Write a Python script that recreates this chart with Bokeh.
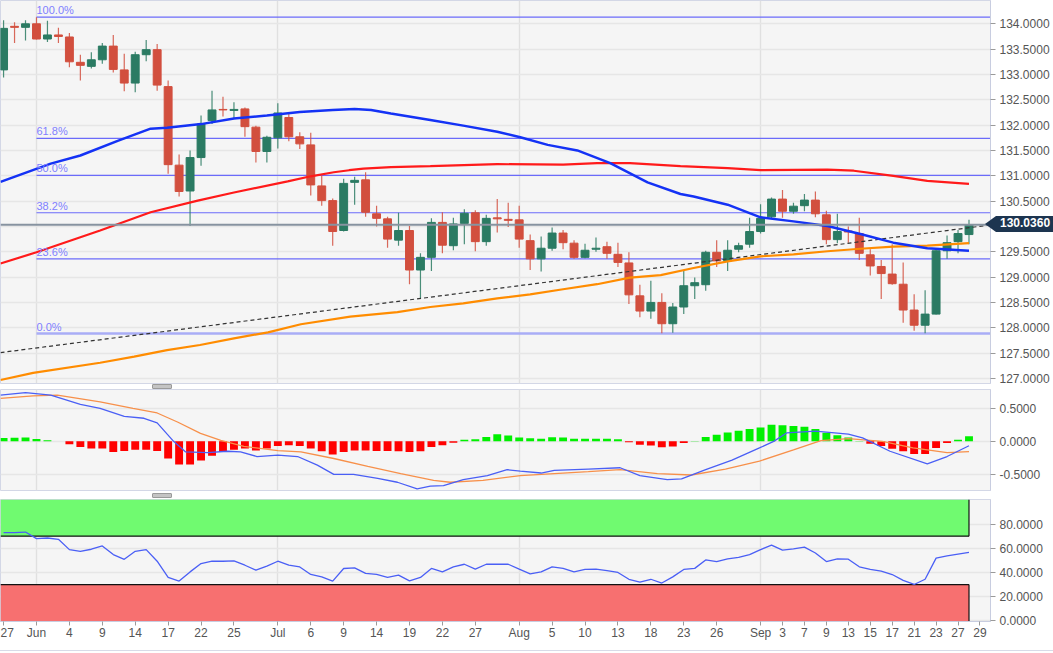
from bokeh.plotting import figure
from bokeh.layouts import column
from bokeh.models import Range1d, FixedTicker, Span, Label, ColumnDataSource, NumeralTickFormatter
from bokeh.embed import file_html
from bokeh.resources import INLINE

FONT = "Liberation Sans"

# ---------------- data ----------------
tick_idx = [0, 3, 6, 9, 12, 15, 18, 21, 25, 28, 31, 34, 37, 40, 43, 47, 50, 53, 56, 59, 62, 65,
            69, 71, 73, 75, 77, 79, 81, 83, 85, 87, 89]
tick_lbl = ["27", "Jun", "4", "9", "14", "17", "22", "25", "Jul", "6", "9", "14", "19", "22", "27",
            "Aug", "5", "10", "13", "18", "23", "26", "Sep", "3", "7", "9", "13", "15", "17", "21",
            "23", "27", "29"]
month_idx = [3, 25, 47, 69]

opens = [133.09, 133.95, 133.93, 134.00, 133.70, 133.78, 133.74, 133.24, 133.16, 133.29,
         133.56, 133.09, 132.83, 133.39, 133.49, 132.76, 131.21, 130.70, 131.36, 132.09,
         132.31, 132.29, 132.32, 131.96, 131.48, 131.75, 132.15, 131.77, 131.61, 130.80,
         130.51, 129.92, 130.87, 130.92, 130.25, 130.15, 129.73, 129.92, 129.14, 129.39,
         130.08, 129.62, 130.06, 130.27, 129.70, 130.17, 130.14, 130.13, 129.72, 129.36,
         129.57, 129.87, 129.67, 129.39, 129.55, 129.60, 129.45, 129.28, 128.63, 128.33,
         128.50, 128.08, 128.41, 128.83, 128.85, 129.49, 129.32, 129.55, 129.65, 129.90,
         130.19, 130.54, 130.30, 130.41, 130.52, 130.23, 129.74, 129.91, 129.86, 129.44,
         129.21, 129.06, 128.86, 128.35, 128.05, 128.27, 129.52, 129.70, 129.84]
highs = [134.07, 134.03, 134.07, 134.13, 134.06, 133.92, 133.82, 133.39, 133.44, 133.62,
         133.78, 133.41, 133.45, 133.68, 133.60, 132.88, 131.42, 131.50, 132.19, 132.68,
         132.56, 132.45, 132.35, 131.99, 131.79, 132.43, 132.22, 131.86, 131.85, 131.00,
         130.55, 130.94, 130.98, 131.07, 130.41, 130.19, 130.27, 130.01, 129.47, 130.16,
         130.28, 130.17, 130.34, 130.32, 130.23, 130.54, 130.47, 130.41, 129.84, 129.80,
         129.98, 129.93, 129.73, 129.66, 129.78, 129.70, 129.68, 129.49, 128.85, 128.93,
         128.68, 128.49, 129.13, 128.99, 129.52, 129.73, 129.73, 129.68, 130.17, 130.44,
         130.57, 130.72, 130.47, 130.64, 130.69, 130.31, 130.25, 130.00, 130.17, 129.55,
         129.34, 129.65, 129.29, 128.66, 128.74, 129.53, 129.82, 129.93, 130.13]
lows = [132.94, 133.62, 133.67, 133.69, 133.64, 133.62, 133.14, 132.88, 133.12, 133.21,
        133.04, 132.67, 132.65, 133.26, 132.68, 131.04, 130.59, 130.01, 131.20, 132.02,
        132.17, 132.12, 131.77, 131.26, 131.26, 131.54, 131.68, 131.53, 130.61, 130.41,
        129.62, 129.90, 130.43, 130.19, 130.00, 129.58, 129.62, 128.86, 128.57, 129.12,
        129.47, 129.53, 129.65, 129.51, 129.62, 129.88, 129.99, 129.58, 129.14, 129.11,
        129.52, 129.55, 129.36, 129.37, 129.50, 129.36, 129.20, 128.47, 128.21, 128.18,
        127.89, 127.90, 128.27, 128.57, 128.73, 129.20, 129.12, 129.49, 129.58, 129.86,
        130.15, 130.17, 130.25, 130.30, 130.18, 129.65, 129.67, 129.68, 129.34, 129.03,
        128.57, 128.85, 128.10, 127.94, 127.89, 128.26, 129.36, 129.47, 129.65]
closes = [133.91, 133.93, 134.00, 133.70, 133.78, 133.75, 133.25, 133.18, 133.29, 133.56,
          133.10, 132.83, 133.39, 133.49, 132.79, 131.22, 130.69, 131.36, 132.02, 132.30,
          132.30, 132.31, 131.97, 131.48, 131.76, 132.24, 131.77, 131.63, 130.82, 130.51,
          129.90, 130.85, 130.91, 130.28, 130.16, 129.75, 129.92, 129.14, 129.39, 130.08,
          129.63, 130.05, 130.26, 129.70, 130.16, 130.15, 130.12, 129.75, 129.36, 129.57,
          129.87, 129.68, 129.39, 129.53, 129.57, 129.47, 129.29, 128.65, 128.33, 128.50,
          128.08, 128.41, 128.83, 128.89, 129.49, 129.32, 129.53, 129.62, 129.90, 130.16,
          130.54, 130.30, 130.40, 130.52, 130.25, 129.74, 129.90, 129.89, 129.47, 129.22,
          129.07, 128.87, 128.35, 128.05, 128.27, 129.52, 129.68, 129.86, 130.036]

ma50_x = [-0.28, 4.3, 7, 10.4, 13.4, 14.9, 18, 21, 24, 27, 30, 32, 33.5, 35.3, 38.9, 41.9, 45,
          47.1, 49.6, 52.3, 55.3, 58.7, 61.7, 62.9, 66, 69, 72, 75.1, 78.1, 81.1, 84.2, 88]
ma50_y = [130.88, 131.24, 131.40, 131.69, 131.93, 131.95, 132.02, 132.13, 132.19, 132.26,
          132.30, 132.32, 132.30, 132.23, 132.10, 131.99, 131.87, 131.76, 131.61, 131.50,
          131.25, 130.87, 130.64, 130.59, 130.43, 130.18, 130.10, 130.01, 129.85, 129.68,
          129.57, 129.52]
ma100_x = [-0.28, 3, 8.8, 13.4, 17.7, 21, 25.9, 28, 30.1, 31.5, 32.8, 35.3, 38.9, 45, 51,
           54.1, 57.1, 61.7, 66, 69, 75.1, 77.5, 81.1, 84.2, 88]
ma100_y = [129.27, 129.49, 129.92, 130.28, 130.51, 130.67, 130.89, 130.99, 131.07, 131.11,
           131.14, 131.17, 131.19, 131.23, 131.22, 131.25, 131.25, 131.19, 131.15, 131.11,
           131.12, 131.10, 131.00, 130.90, 130.84]
ma200_x = [-0.28, 2.7, 8.8, 11.9, 14.9, 17.9, 21, 24.1, 27.1, 31.6, 35.9, 38.9, 41.9, 45, 48,
           51, 54.1, 57.1, 59.9, 62.9, 66, 69, 72, 75.1, 78.1, 81.1, 84.2, 88]
ma200_y = [126.97, 127.11, 127.31, 127.43, 127.56, 127.66, 127.79, 127.91, 128.07, 128.22,
           128.31, 128.41, 128.48, 128.58, 128.66, 128.76, 128.86, 128.99, 129.04, 129.18,
           129.31, 129.41, 129.45, 129.51, 129.56, 129.60, 129.62, 129.67]
trend_x = [-0.28, 89.96]
trend_y = [127.51, 130.03]

fib_lbl = ["0.0%", "23.6%", "38.2%", "50.0%", "61.8%", "100.0%"]
fib_px = [127.885, 129.36, 130.27, 131.01, 131.74, 134.13]
fib_start = 3
last_price = 130.036
last_text = "130.0360"

hist = [0.05, 0.056, 0.06, 0.035, 0.015, 0.003, -0.045, -0.087, -0.11, -0.11,
        -0.16, -0.147, -0.126, -0.126, -0.147, -0.26, -0.35, -0.35, -0.29, -0.22,
        -0.16, -0.126, -0.11, -0.137, -0.11, -0.07, -0.06, -0.07, -0.11, -0.15,
        -0.20, -0.16, -0.137, -0.137, -0.147, -0.147, -0.15, -0.16, -0.15, -0.087,
        -0.06, -0.02, 0.025, 0.03, 0.066, 0.106, 0.09, 0.06, 0.047, 0.04,
        0.062, 0.057, 0.04, 0.04, 0.04, 0.04, 0.03, -0.012, -0.052, -0.062,
        -0.088, -0.078, -0.026, 0.005, 0.067, 0.10, 0.135, 0.16, 0.186, 0.21,
        0.25, 0.243, 0.233, 0.22, 0.186, 0.13, 0.093, 0.057, 0.005, -0.036,
        -0.072, -0.114, -0.15, -0.19, -0.19, -0.10, -0.026, 0.026, 0.078]
macd_x = [-0.28, 2, 4.3, 7, 8.8, 11, 12.8, 14, 15.5, 16.6, 18.6, 20.4, 21.6, 23.1, 25, 26.8,
          28.6, 30.1, 31.9, 34.1, 35.9, 37.7, 38.9, 40.1, 41.9, 44.1, 45.9, 47.1, 49, 50.2,
          53.3, 56.2, 58, 60.5, 61.8, 64, 66.4, 68.9, 70.2, 71.4, 74, 77, 78.3, 80.8, 84.2,
          86, 88]
macd_y = [0.70, 0.74, 0.70, 0.56, 0.50, 0.38, 0.35, 0.28, 0.0, -0.16, -0.17, -0.15, -0.16,
          -0.23, -0.21, -0.23, -0.36, -0.50, -0.50, -0.56, -0.62, -0.72, -0.68, -0.67, -0.58,
          -0.52, -0.43, -0.45, -0.48, -0.44, -0.42, -0.40, -0.52, -0.58, -0.57, -0.43, -0.285,
          -0.10, 0.0, 0.13, 0.156, 0.11, 0.053, -0.15, -0.34, -0.23, -0.067]
sig_x = [-0.28, 2.7, 4.9, 8.8, 11.8, 14, 15.9, 17.95, 19.8, 21.9, 25, 27.1, 30.1, 33.2, 36.2,
         39.2, 40.7, 43.7, 47.1, 50.2, 53.3, 56.2, 59.6, 62.7, 65.8, 68.9, 72, 74.5, 77, 80.1,
         82.9, 86, 88]
sig_y = [0.65, 0.69, 0.70, 0.60, 0.50, 0.43, 0.29, 0.12, 0.015, -0.076, -0.14, -0.16, -0.26,
         -0.38, -0.49, -0.59, -0.62, -0.59, -0.52, -0.49, -0.46, -0.43, -0.49, -0.51, -0.42,
         -0.30, -0.13, 0.01, 0.04, 0.0, -0.10, -0.17, -0.155]

rsi = [72.9, 72.9, 73.4, 68.0, 68.5, 67.4, 58.9, 57.5, 59.2, 61.9,
       54.8, 50.9, 57.5, 58.9, 49.3, 35.9, 32.9, 40.5, 47.4, 49.3,
       49.3, 49.6, 46.0, 41.9, 45.2, 49.3, 46.0, 44.6, 38.4, 36.4,
       32.9, 43.3, 43.8, 39.2, 38.4, 35.9, 37.8, 33.1, 35.9, 43.3,
       40.5, 44.6, 46.8, 42.7, 46.8, 46.8, 46.8, 42.7, 38.9, 40.5,
       44.7, 43.4, 40.5, 42.5, 42.8, 41.6, 40.0, 34.4, 32.1, 34.4,
       31.3, 36.4, 42.5, 43.4, 50.4, 49.0, 51.3, 52.4, 54.7, 58.9,
       62.6, 58.4, 59.5, 60.9, 56.1, 49.0, 51.3, 51.0, 44.7, 42.5,
       41.1, 38.3, 33.5, 30.1, 34.4, 51.9, 53.8, 55.2, 56.6]
rsi_hi = 70
rsi_lo = 30

# ---------------- styling ----------------
X0, X1 = -0.28, 89.96
Y0, Y1 = 126.9, 134.46
FW = 990
MAIN_H = 383
BG = "#f5f5f5"
HGRID = "#e6e6e6"
VGRID = "#e0e0e0"
GREEN = "#2b7b63"
RED = "#d24f3e"
TAG = "#1d3550"

idx = list(range(len(opens)))


def style(p, yticks, fmt):
    p.background_fill_color = BG
    p.border_fill_color = "white"
    p.outline_line_color = "#d3d7e6"
    ax = p.yaxis[0]
    ax.ticker = FixedTicker(ticks=yticks)
    ax.formatter = NumeralTickFormatter(format=fmt)
    ax.axis_line_color = "#c8cde0"
    ax.major_tick_line_color = "#9a9a9a"
    ax.major_tick_out = 5
    ax.major_tick_in = 0
    ax.minor_tick_line_color = None
    ax.major_label_text_font = FONT
    ax.major_label_text_font_size = "12px"
    ax.major_label_text_color = "#555555"
    ax.major_label_standoff = 4
    p.ygrid.ticker = FixedTicker(ticks=yticks)
    p.ygrid.grid_line_color = HGRID
    p.ygrid.grid_line_width = 1.6
    p.xgrid.ticker = FixedTicker(ticks=month_idx)
    p.xgrid.grid_line_color = VGRID
    p.xgrid.grid_line_width = 1.4


xr = Range1d(X0, X1)

# ---------------- main price panel ----------------
main = figure(frame_width=FW, frame_height=MAIN_H, x_range=xr, y_range=Range1d(Y0, Y1),
              output_backend="svg", toolbar_location=None, y_axis_location="right",
              x_axis_location=None, min_border_left=0, min_border_top=0, min_border_bottom=6,
              min_border_right=63)
style(main, [127 + 0.5 * k for k in range(15)], "0.0000")

for lbl, px in zip(fib_lbl, fib_px):
    is_zero = lbl == "0.0%"
    main.segment(x0=[fib_start], y0=[px], x1=[X1], y1=[px],
                 line_color="#a9adf6" if is_zero else "#6b6bfa",
                 line_width=2.5 if is_zero else 1.2)
    main.add_layout(Label(x=fib_start, y=px, text=lbl, text_font=FONT, text_font_size="11px",
                          text_color="#8080ff", text_baseline="bottom", text_align="left",
                          x_offset=0, y_offset=1))

main.add_layout(Span(location=last_price, dimension="width", line_color="#8793a0", line_width=2))

top = [max(o, c) for o, c in zip(opens, closes)]
bot = [min(o, c) for o, c in zip(opens, closes)]
col = [GREEN if c >= o else RED for o, c in zip(opens, closes)]
src = ColumnDataSource(dict(x=idx, top=top, bot=bot, high=highs, low=lows, color=col))
main.segment(x0="x", y0="low", x1="x", y1="high", line_color="color", line_width=1.2,
             line_alpha=0.85, source=src)
main.vbar(x="x", top="top", bottom="bot", width=0.72, fill_color="color", line_color="color",
          line_width=1, source=src)

main.line(trend_x, trend_y, line_color="#333333", line_width=1.2, line_dash="4 3")
main.line(ma200_x, ma200_y, line_color="#ff8c00", line_width=2.2)
main.line(ma100_x, ma100_y, line_color="#ff1a1a", line_width=2.2)
main.line(ma50_x, ma50_y, line_color="#1432f5", line_width=2.5)

# ---------------- MACD panel ----------------
macd = figure(frame_width=FW, frame_height=101, x_range=xr, y_range=Range1d(-0.745, 0.786),
              output_backend="svg", toolbar_location=None, y_axis_location="right",
              x_axis_location=None, min_border_left=0, min_border_top=0, min_border_bottom=9,
              min_border_right=63)
style(macd, [-0.5, 0.0, 0.5], "0.0000")
hcol = ["#00f000" if h >= 0 else "#ff0000" for h in hist]
hsrc = ColumnDataSource(dict(x=idx, top=hist, color=hcol))
macd.vbar(x="x", top="top", bottom=0, width=0.72, fill_color="color", line_color=None,
          source=hsrc)
macd.line(sig_x, sig_y, line_color="#f7904a", line_width=1.3)
macd.line(macd_x, macd_y, line_color="#4a5ff5", line_width=1.3)

# ---------------- RSI panel ----------------
rsip = figure(frame_width=FW, frame_height=122, x_range=xr, y_range=Range1d(-0.5, 100.3),
              output_backend="svg", toolbar_location=None, y_axis_location="right",
              x_axis_location="below", min_border_left=0, min_border_top=0, min_border_bottom=4,
              min_border_right=63)
style(rsip, [0, 20, 40, 60, 80], "0.0000")
last_i = idx[-1]
rsip.quad(left=[X0], right=[last_i], bottom=[rsi_hi], top=[100.3], fill_color="#70fa70",
          line_color=None)
rsip.quad(left=[X0], right=[last_i], bottom=[-0.5], top=[rsi_lo], fill_color="#f77070",
          line_color=None)
rsip.segment(x0=[X0, X0, last_i, last_i], y0=[rsi_hi, rsi_lo, rsi_hi, -0.5],
             x1=[last_i, last_i, last_i, last_i], y1=[rsi_hi, rsi_lo, 100.3, rsi_lo],
             line_color="#111111", line_width=1.2)
rsip.line(idx, rsi, line_color="#4a5ff5", line_width=1.3)

xa = rsip.xaxis[0]
xa.ticker = FixedTicker(ticks=tick_idx)
xa.major_label_overrides = {t: s for t, s in zip(tick_idx, tick_lbl)}
xa.axis_line_color = "#c8cde0"
xa.major_tick_line_color = "#9a9a9a"
xa.major_tick_out = 4
xa.major_tick_in = 0
xa.minor_tick_line_color = None
xa.major_label_text_font = FONT
xa.major_label_text_font_size = "12px"
xa.major_label_text_color = "#555555"
xa.major_label_standoff = 0

layout = column(main, macd, rsip, spacing=0)
html = file_html(layout, INLINE)

# price tag sitting on the right axis (outside the plot frame) + panel drag handles
tag_y = (Y1 - last_price) / (Y1 - Y0) * MAIN_H
extra = (
    '<div style="position:absolute;left:%dpx;top:%dpx;width:0;height:0;'
    'border-top:8px solid transparent;border-bottom:8px solid transparent;'
    'border-right:11px solid %s;"></div>' % (FW - 5, round(tag_y - 8), TAG)
    + '<div style="position:absolute;left:%dpx;top:%dpx;height:16px;line-height:16px;'
    'padding:0 4px;background:%s;color:#ffffff;font:bold 12px \'Liberation Sans\',sans-serif;">'
    '%s</div>' % (FW + 6, round(tag_y - 8), TAG, last_text)
    + '<div style="position:absolute;left:152px;top:384px;width:18px;height:3px;'
    'background:#c4c4c4;border:1px solid #9a9a9a;border-radius:1px;"></div>'
    + '<div style="position:absolute;left:152px;top:493px;width:18px;height:3px;'
    'background:#c4c4c4;border:1px solid #9a9a9a;border-radius:1px;"></div>'
    + '<div style="position:absolute;left:0px;top:650px;width:1053px;height:1px;'
    'background:#d8dbe8;"></div>'
)
html = html.replace("</body>", extra + "</body>")
open("out.html", "w").write(html)
